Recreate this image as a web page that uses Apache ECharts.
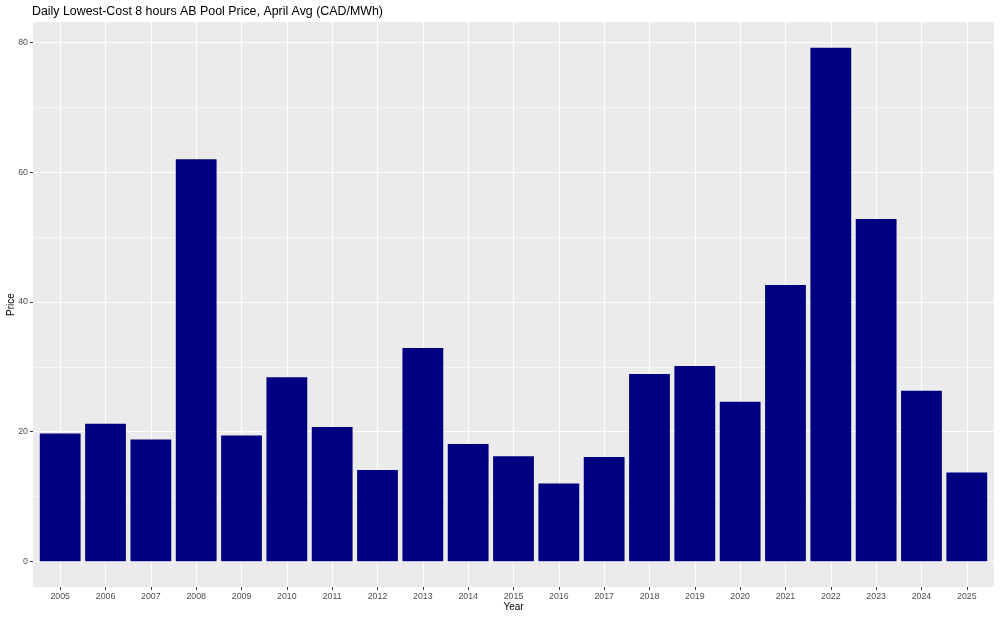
<!DOCTYPE html>
<html>
<head>
<meta charset="utf-8">
<script src="https://cdn.jsdelivr.net/npm/echarts@6/dist/echarts.min.js"></script>
<style>html,body{margin:0;padding:0;background:#fff}#c{width:1000px;height:618px}</style>
</head>
<body>
<div id="c"></div>
<script>
const years = ['2005','2006','2007','2008','2009','2010','2011','2012','2013','2014','2015','2016','2017','2018','2019','2020','2021','2022','2023','2024','2025'];
const prices = [19.7, 21.2, 18.8, 62.0, 19.4, 28.4, 20.7, 14.1, 32.9, 18.1, 16.2, 12.0, 16.1, 28.9, 30.1, 24.6, 42.6, 79.2, 52.8, 26.3, 13.7];
const yTicks = [0, 20, 40, 60, 80];
const titleText = 'Daily Lowest-Cost 8 hours AB Pool Price, April Avg (CAD/MWh)';

const positions = years.map((y, i) => i + 1);
const dataMax = Math.max(...prices);
const font = 'Liberation Sans, Arial, sans-serif';

const chart = echarts.init(document.getElementById('c'), null, {renderer: 'canvas'});
chart.setOption({
  animation: false,
  backgroundColor: '#ffffff',
  textStyle: {fontFamily: font},
  title: {
    text: titleText,
    left: 27, top: 1,
    textStyle: {fontSize: 12.4, fontWeight: 'normal', color: '#000', fontFamily: font}
  },
  grid: {
    left: 33, right: 6, top: 22, bottom: 31,
    containLabel: false, outerBoundsMode: 'none',
    show: true, backgroundColor: '#EBEBEB', borderWidth: 0
  },
  xAxis: {
    type: 'value',
    min: 0.4, max: positions.length + 0.6,
    name: 'Year', nameLocation: 'middle', nameGap: 15, nameMoveOverlap: false,
    nameTextStyle: {fontSize: 10, color: '#000', fontFamily: font},
    axisLine: {show: false, onZero: false},
    axisTick: {show: true, length: 3, customValues: positions, lineStyle: {color: '#333333', width: 1}},
    axisLabel: {customValues: positions, formatter: v => years[Math.round(v) - 1] || '', fontSize: 8.8, color: '#4D4D4D', margin: 5, fontFamily: font},
    splitLine: {show: true, lineStyle: {color: '#ffffff', width: 1.1}}
  },
  yAxis: {
    type: 'value',
    min: -0.05 * dataMax, max: 1.05 * dataMax,
    name: 'Price', nameLocation: 'middle', nameGap: 17, nameMoveOverlap: false,
    nameTextStyle: {fontSize: 10, color: '#000', fontFamily: font},
    axisLine: {show: false, onZero: false},
    axisTick: {show: true, length: 3, customValues: yTicks, lineStyle: {color: '#333333', width: 1}},
    axisLabel: {customValues: yTicks, fontSize: 8.8, color: '#4D4D4D', margin: 5, fontFamily: font},
    splitLine: {show: true, lineStyle: {color: '#ffffff', width: 1.1}},
    minorTick: {show: false, splitNumber: 2},
    minorSplitLine: {show: true, lineStyle: {color: '#ffffff', width: 0.55}}
  },
  series: [{
    type: 'bar',
    data: positions.map((p, i) => [p, prices[i]]),
    barWidth: '90%',
    itemStyle: {color: '#000080'}
  }]
});
</script>
</body>
</html>
